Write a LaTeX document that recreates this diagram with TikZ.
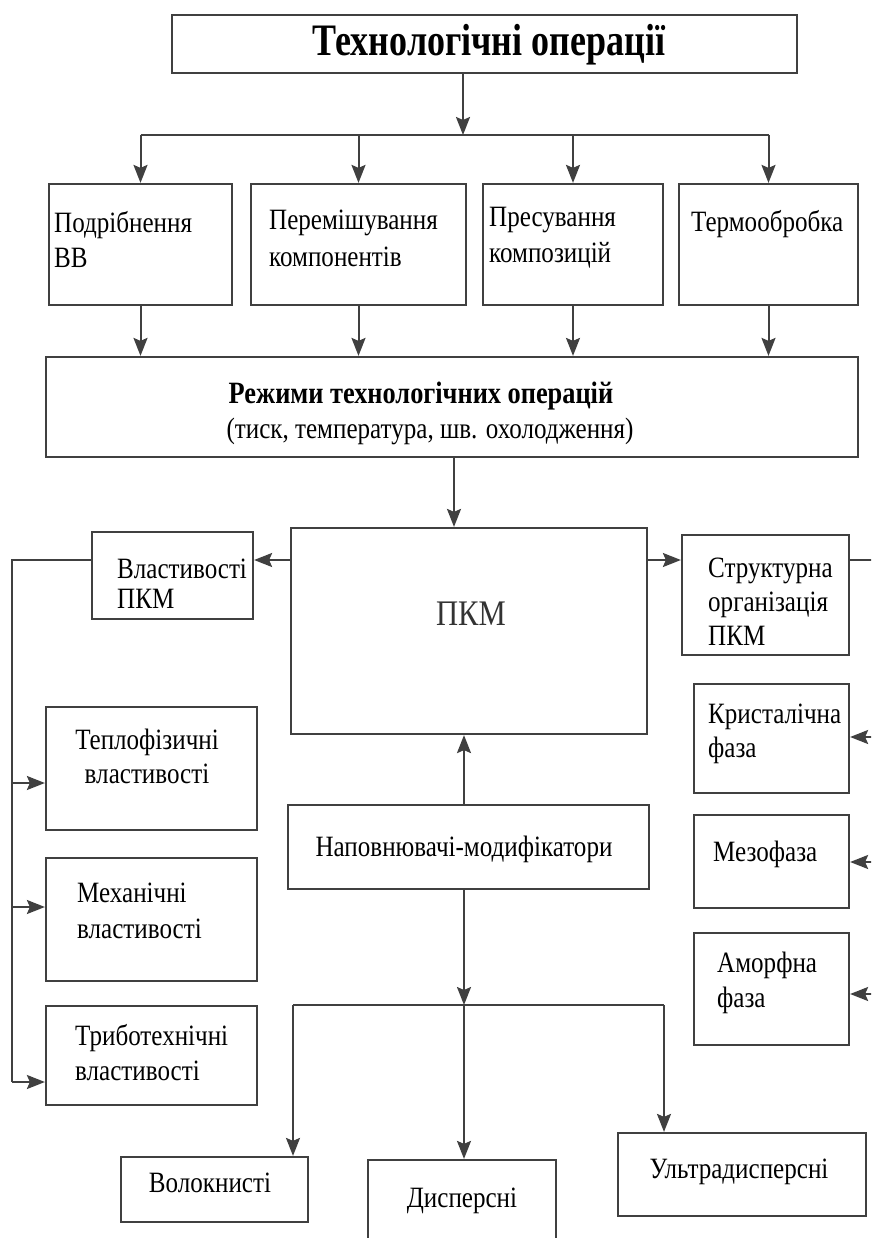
\documentclass[tikz,border=0pt]{standalone}
\usepackage{fontspec}
\setmainfont[FakeStretch=0.85]{Liberation Serif}
\newfontfamily\titlefont[FakeStretch=0.8]{Liberation Serif}
\usetikzlibrary{arrows.meta}
\begin{document}
\begin{tikzpicture}[x=1pt,y=-1pt,
  box/.style={draw=black!75, line width=2.2pt, rectangle, inner sep=0pt},
  line/.style={draw=black!75, line width=2pt},
  arr/.style={line, -{Stealth[length=18pt,width=14pt,inset=3pt]}},
  txt/.style={font=\fontsize{29.5}{34}\selectfont, inner sep=0pt, align=left, anchor=base west},
  ctxt/.style={txt, align=center, anchor=base},
]
\useasboundingbox (0,0) rectangle (871,1238);
\clip (0,0) rectangle (871,1238);

% boxes
\node[box, minimum width=625, minimum height=58] (T) at (484.5,44) {};
\node[box, minimum width=183, minimum height=121] (b1) at (140.5,244.5) {};
\node[box, minimum width=215, minimum height=121] (b2) at (358.5,244.5) {};
\node[box, minimum width=180, minimum height=121] (b3) at (573,244.5) {};
\node[box, minimum width=179, minimum height=121] (b4) at (768.5,244.5) {};
\node[box, minimum width=812, minimum height=100] (R) at (452,407) {};
\node[box, minimum width=356, minimum height=206] (P) at (469,631) {};
\node[box, minimum width=161, minimum height=87] (VP) at (172.5,575.5) {};
\node[box, minimum width=167, minimum height=120] (S) at (765.5,595) {};
\node[box, minimum width=211, minimum height=123] (Tep) at (151.5,768.5) {};
\node[box, minimum width=211, minimum height=123] (Mex) at (151.5,919.5) {};
\node[box, minimum width=211, minimum height=99] (Trib) at (151.5,1055.5) {};
\node[box, minimum width=155, minimum height=109] (K) at (771.5,738.5) {};
\node[box, minimum width=155, minimum height=93] (Mz) at (771.5,861.5) {};
\node[box, minimum width=155, minimum height=112] (Am) at (771.5,989) {};
\node[box, minimum width=361, minimum height=84] (N) at (468.5,847) {};
\node[box, minimum width=187, minimum height=65] (W) at (214.5,1189.5) {};
\node[box, minimum width=188, minimum height=110] (D) at (462,1215) {};
\node[box, minimum width=248, minimum height=83] (U) at (742,1174.5) {};

% texts (base anchor = baseline of last line)
\node[ctxt, font=\titlefont\bfseries\fontsize{45}{50}\selectfont] (Tt) at (489,56) {Технологічні операції};
\node[txt] (b1t) at (54,268) {Подрібнення\\[1pt]ВВ};
\node[txt] (b2t) at (269,267) {Перемішування\\[3pt]компонентів};
\node[txt] (b3t) at (489,263) {Пресування\\[2pt]композицій};
\node[txt] (b4t) at (691,232) {Термообробка};
\node[ctxt, font=\bfseries\fontsize{31}{34}\selectfont] (Rt1) at (421,403) {Режими технологічних операцій};
\node[ctxt] (Rt2) at (430,438) {(тиск, температура, шв. охолодження)};
\node[ctxt, font=\fontsize{36}{40}\selectfont, text=black!80] (Pt) at (471,625) {ПКМ};
\node[txt] (VPt) at (117,608) {Властивості\\[-4pt]ПКМ};
\node[txt] (St) at (708,645) {Структурна\\організація\\ПКМ};
\node[txt] (Kt) at (708,757) {Кристалічна\\фаза};
\node[txt] (Mzt) at (713,861) {Мезофаза};
\node[txt] (Amt) at (717,1007) {Аморфна\\[1pt]фаза};
\node[ctxt] (Tept) at (147,783) {Теплофізичні\\властивості};
\node[txt] (Mext) at (77,938) {Механічні\\[2pt]властивості};
\node[txt] (Tribt) at (75,1080) {Триботехнічні\\[1pt]властивості};
\node[ctxt] (Nt) at (464,856) {Наповнювачі-модифікатори};
\node[ctxt] (Wt) at (210,1192) {Волокнисті};
\node[ctxt] (Dt) at (462,1207) {Дисперсні};
\node[ctxt] (Ut) at (739,1178) {Ультрадисперсні};

% coordinates
\coordinate (j0) at (463,135);
\coordinate (c1) at (454,0);
\coordinate (yA) at (0,560);
\coordinate (Lt) at (12,560);
\coordinate (Lbot) at (12,1082);
\coordinate (yTep) at (0,783);
\coordinate (yMex) at (0,907);
\coordinate (yTrib) at (0,1082);
\coordinate (Rtop) at (874,560);
\coordinate (Rbot) at (874,994);
\coordinate (yK) at (0,737);
\coordinate (yMz) at (0,862);
\coordinate (yAm) at (0,994);
\coordinate (jn) at (464,1005);
\coordinate (jl) at (293,1005);
\coordinate (jr) at (664,1005);

% connectors top
\draw[arr] (T.south -| j0) -- (j0);
\draw[line] (b1.north |- j0) -- (b4.north |- j0);
\foreach \b in {b1,b2,b3,b4} {
  \draw[arr] (\b.north |- j0) -- (\b.north);
  \draw[arr] (\b.south) -- (\b.south |- R.north);
}
\draw[arr] (R.south -| c1) -- (P.north -| c1);

% left / right
\draw[arr] (P.west |- yA) -- (VP.east |- yA);
\draw[arr] (P.east |- yA) -- (S.west |- yA);
\draw[line] (VP.west |- yA) -- (Lt) -- (Lbot);
\draw[arr] (Lt |- yTep) -- (Tep.west |- yTep);
\draw[arr] (Lt |- yMex) -- (Mex.west |- yMex);
\draw[arr] (Lt |- yTrib) -- (Trib.west |- yTrib);
\draw[line] (S.east |- yA) -- (Rtop) -- (Rbot);
\draw[arr] (Rtop |- yK) -- (K.east |- yK);
\draw[arr] (Rtop |- yMz) -- (Mz.east |- yMz);
\draw[arr] (Rtop |- yAm) -- (Am.east |- yAm);

% bottom
\draw[arr] (N.north -| jn) -- (P.south -| jn);
\draw[arr] (N.south -| jn) -- (jn);
\draw[line] (jl) -- (jr);
\draw[arr] (jl) -- (W.north -| jl);
\draw[arr] (jn) -- (D.north -| jn);
\draw[arr] (jr) -- (U.north -| jr);
\end{tikzpicture}
\end{document}
